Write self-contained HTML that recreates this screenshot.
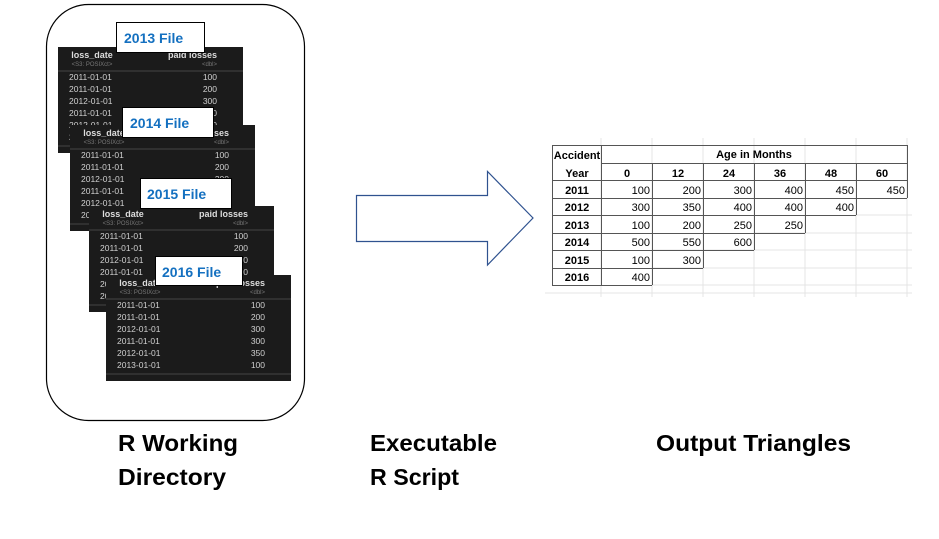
<!DOCTYPE html>
<html><head><meta charset="utf-8"><style>
html,body{margin:0;padding:0;background:#fff;}
svg{display:block;}
.h{font-family:"Liberation Sans",sans-serif;font-weight:bold;font-size:9px;fill:#ddd;}
.s{font-family:"Liberation Sans",sans-serif;font-size:6px;fill:#777;}
.r{font-family:"Liberation Sans",sans-serif;font-size:8.5px;fill:#d0d0d0;}
.lb{font-family:"Liberation Sans",sans-serif;font-weight:bold;font-size:14px;fill:#1470c0;}
.big{font-family:"Liberation Sans",sans-serif;font-weight:bold;font-size:23px;fill:#000;}
.t{font-family:"Liberation Sans",sans-serif;font-size:11px;fill:#000;}
.tb{font-family:"Liberation Sans",sans-serif;font-weight:bold;font-size:11px;fill:#000;}
</style></head><body>
<svg width="939" height="539" viewBox="0 0 939 539" xmlns="http://www.w3.org/2000/svg">
<defs>
<g id="panel">
<rect x="0" y="0" width="185" height="106" fill="#1b1b1b"/>
<text class="h" x="34" y="11" text-anchor="middle">loss_date</text>
<text class="s" x="34" y="19" text-anchor="middle">&lt;S3: POSIXct&gt;</text>
<text class="h" x="159" y="11" text-anchor="end">paid losses</text>
<text class="s" x="159" y="19" text-anchor="end">&lt;dbl&gt;</text>
<line x1="0" y1="24" x2="185" y2="24" stroke="#444" stroke-width="1"/>
<text class="r" x="11" y="33">2011-01-01</text><text class="r" x="159" y="33" text-anchor="end">100</text>
<text class="r" x="11" y="45">2011-01-01</text><text class="r" x="159" y="45" text-anchor="end">200</text>
<text class="r" x="11" y="57">2012-01-01</text><text class="r" x="159" y="57" text-anchor="end">300</text>
<text class="r" x="11" y="69">2011-01-01</text><text class="r" x="159" y="69" text-anchor="end">300</text>
<text class="r" x="11" y="81">2012-01-01</text><text class="r" x="159" y="81" text-anchor="end">350</text>
<text class="r" x="11" y="93">2013-01-01</text><text class="r" x="159" y="93" text-anchor="end">100</text>
<line x1="0" y1="99" x2="185" y2="99" stroke="#444" stroke-width="1"/>
</g>
</defs>
<rect x="46.5" y="4.5" width="258" height="416" rx="42" ry="42" fill="#fff" stroke="#000" stroke-width="1.2"/>

<use href="#panel" x="58" y="47"/>
<rect x="116.5" y="22.5" width="88" height="30" fill="#fff" stroke="#000"/>
<text class="lb" x="124" y="43">2013 File</text>

<use href="#panel" x="70" y="125"/>
<rect x="122.5" y="107.5" width="91" height="30" fill="#fff" stroke="#000"/>
<text class="lb" x="130" y="128">2014 File</text>

<use href="#panel" x="89" y="206"/>
<rect x="140.5" y="178.5" width="91" height="30" fill="#fff" stroke="#000"/>
<text class="lb" x="147" y="199">2015 File</text>

<use href="#panel" x="106" y="275"/>
<rect x="155.5" y="256.5" width="87" height="29" fill="#fff" stroke="#000"/>
<text class="lb" x="162" y="277">2016 File</text>

<!-- arrow -->
<polygon points="356.5,195.5 487.5,195.5 487.5,171.5 533,218 487.5,265 487.5,241.5 356.5,241.5" fill="#fff" stroke="#2f528f" stroke-width="1.2"/>

<!-- excel faint grid -->
<g stroke="#e4e4e4" stroke-width="1">
<line x1="601" y1="138" x2="601" y2="297"/><line x1="652" y1="138" x2="652" y2="297"/>
<line x1="703" y1="138" x2="703" y2="297"/><line x1="754" y1="138" x2="754" y2="297"/>
<line x1="805" y1="138" x2="805" y2="297"/><line x1="856" y1="138" x2="856" y2="297"/>
<line x1="907" y1="138" x2="907" y2="297"/>
<line x1="545" y1="293" x2="912" y2="293"/>
<line x1="652" y1="250" x2="912" y2="250"/><line x1="652" y1="268" x2="912" y2="268"/>
<line x1="652" y1="285" x2="912" y2="285"/><line x1="754" y1="233" x2="912" y2="233"/>
<line x1="856" y1="215" x2="912" y2="215"/>
</g>
<g stroke="#555" stroke-width="1" fill="none">
<rect x="552.5" y="145.5" width="355" height="35"/>
<line x1="601.5" y1="145" x2="601.5" y2="285"/>
<line x1="601" y1="163.5" x2="907" y2="163.5"/>
<line x1="652.5" y1="163" x2="652.5" y2="285"/>
<line x1="703.5" y1="163" x2="703.5" y2="268"/>
<line x1="754.5" y1="163" x2="754.5" y2="250"/>
<line x1="805.5" y1="163" x2="805.5" y2="233"/>
<line x1="856.5" y1="163" x2="856.5" y2="215"/>
<line x1="907.5" y1="163" x2="907.5" y2="198"/>
<line x1="552.5" y1="180" x2="552.5" y2="285.5"/>
<line x1="552" y1="198.5" x2="907" y2="198.5"/>
<line x1="552" y1="215.5" x2="856" y2="215.5"/>
<line x1="552" y1="233.5" x2="805" y2="233.5"/>
<line x1="552" y1="250.5" x2="754" y2="250.5"/>
<line x1="552" y1="268.5" x2="703" y2="268.5"/>
<line x1="552" y1="285.5" x2="652" y2="285.5"/>
</g>
<text class="tb" x="577" y="159" text-anchor="middle">Accident</text>
<text class="tb" x="577" y="177" text-anchor="middle">Year</text>
<text class="tb" x="754" y="158" text-anchor="middle">Age in Months</text>
<text class="tb" x="627" y="177" text-anchor="middle">0</text>
<text class="tb" x="678" y="177" text-anchor="middle">12</text>
<text class="tb" x="729" y="177" text-anchor="middle">24</text>
<text class="tb" x="780" y="177" text-anchor="middle">36</text>
<text class="tb" x="831" y="177" text-anchor="middle">48</text>
<text class="tb" x="882" y="177" text-anchor="middle">60</text>
<text class="tb" x="577" y="194" text-anchor="middle">2011</text>
<text class="tb" x="577" y="211" text-anchor="middle">2012</text>
<text class="tb" x="577" y="229" text-anchor="middle">2013</text>
<text class="tb" x="577" y="246" text-anchor="middle">2014</text>
<text class="tb" x="577" y="264" text-anchor="middle">2015</text>
<text class="tb" x="577" y="281" text-anchor="middle">2016</text>
<g class="t" text-anchor="end">
<text class="t" x="650" y="194" text-anchor="end">100</text><text class="t" x="701" y="194" text-anchor="end">200</text><text class="t" x="752" y="194" text-anchor="end">300</text><text class="t" x="803" y="194" text-anchor="end">400</text><text class="t" x="854" y="194" text-anchor="end">450</text><text class="t" x="905" y="194" text-anchor="end">450</text>
<text class="t" x="650" y="211" text-anchor="end">300</text><text class="t" x="701" y="211" text-anchor="end">350</text><text class="t" x="752" y="211" text-anchor="end">400</text><text class="t" x="803" y="211" text-anchor="end">400</text><text class="t" x="854" y="211" text-anchor="end">400</text>
<text class="t" x="650" y="229" text-anchor="end">100</text><text class="t" x="701" y="229" text-anchor="end">200</text><text class="t" x="752" y="229" text-anchor="end">250</text><text class="t" x="803" y="229" text-anchor="end">250</text>
<text class="t" x="650" y="246" text-anchor="end">500</text><text class="t" x="701" y="246" text-anchor="end">550</text><text class="t" x="752" y="246" text-anchor="end">600</text>
<text class="t" x="650" y="264" text-anchor="end">100</text><text class="t" x="701" y="264" text-anchor="end">300</text>
<text class="t" x="650" y="281" text-anchor="end">400</text>
</g>

<text class="big" x="118" y="451" textLength="120" lengthAdjust="spacingAndGlyphs">R Working</text>
<text class="big" x="118" y="485" textLength="108" lengthAdjust="spacingAndGlyphs">Directory</text>
<text class="big" x="370" y="451" textLength="127" lengthAdjust="spacingAndGlyphs">Executable</text>
<text class="big" x="370" y="485" textLength="89" lengthAdjust="spacingAndGlyphs">R Script</text>
<text class="big" x="656" y="451" textLength="195" lengthAdjust="spacingAndGlyphs">Output Triangles</text>
</svg>
</body></html>
